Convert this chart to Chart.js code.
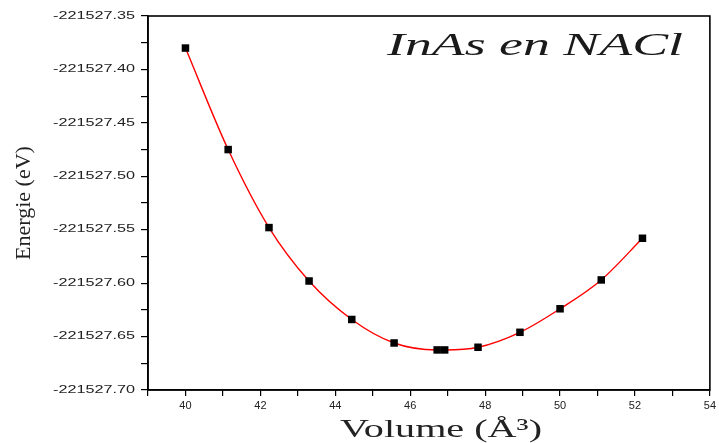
<!DOCTYPE html>
<html>
<head>
<meta charset="utf-8">
<script src="https://cdn.jsdelivr.net/npm/chart.js@4/dist/chart.umd.min.js"></script>
<style>
  html, body { margin: 0; padding: 0; background: #fff; }
  #wrap { width: 719px; height: 443px; }
</style>
</head>
<body>
<div id="wrap"><canvas id="chart"></canvas></div>
<script>
// Data
const volumes = [40.0, 41.14, 42.23, 43.30, 44.44, 45.57, 46.72, 46.92, 47.81, 48.93, 50.0, 51.1, 52.2];
const energies = [-221527.380, -221527.475, -221527.548, -221527.598, -221527.634, -221527.656,
                  -221527.6625, -221527.6625, -221527.660, -221527.646, -221527.624, -221527.597, -221527.558];

// Tick labels
const xTicks = [40, 42, 44, 46, 48, 50, 52, 54];
const yTicks = [-221527.70, -221527.65, -221527.60, -221527.55, -221527.50, -221527.45, -221527.40, -221527.35];

const chartTitle = 'InAs en NACl';
const xTitle = 'Volume (Å³)';

// draw text squeezed/stretched horizontally to a given width
function stretchText(ctx, text, x, y, font, width, align) {
    ctx.save();
    ctx.font = font;
    const w = ctx.measureText(text).width;
    const sx = width / w;
    ctx.translate(x, y);
    ctx.scale(sx, 1);
    ctx.textAlign = align || 'left';
    ctx.fillText(text, 0, 0);
    ctx.restore();
}

// frame round the plot, the wide y tick labels, x title and the label inside
const framePlugin = {
    id: 'frame',
    beforeDatasetsDraw(chart) {
        const a = chart.chartArea;
        const ctx = chart.ctx;
        ctx.save();
        ctx.strokeStyle = '#000';
        ctx.lineWidth = 1.6;
        ctx.strokeRect(a.left, a.top, a.right - a.left, a.bottom - a.top);
        ctx.restore();
    },
    afterDraw(chart) {
        const a = chart.chartArea;
        const ctx = chart.ctx;
        const ys = chart.scales.y;
        ctx.save();
        ctx.fillStyle = '#222';
        ctx.textBaseline = 'middle';
        ctx.font = '10px "Liberation Sans"';
        ys.ticks.forEach((t, i) => {
            if (i % 2 !== 0) return;
            const label = t.value.toFixed(2);
            const w = ctx.measureText(label).width * 1.62;
            stretchText(ctx, label, a.left - 13 - w, ys.getPixelForValue(t.value), ctx.font, w);
        });
        ctx.textBaseline = 'alphabetic';
        ctx.fillStyle = '#222';
        stretchText(ctx, xTitle, 340, 437, '26px "Liberation Serif"', 202);
        ctx.fillStyle = '#1a1a1a';
        stretchText(ctx, chartTitle, a.left + 239, a.top + 39, 'italic 32px "Liberation Serif"', 296);
        ctx.restore();
    }
};

const ctx = document.getElementById('chart').getContext('2d');
new Chart(ctx, {
    type: 'scatter',
    data: {
        datasets: [{
            data: volumes.map((v, i) => ({ x: v, y: energies[i] })),
            showLine: true,
            borderColor: '#ff0000',
            borderWidth: 1.4,
            cubicInterpolationMode: 'monotone',
            pointStyle: 'rect',
            pointRadius: 5.3,
            pointBackgroundColor: '#000',
            pointBorderWidth: 0
        }]
    },
    options: {
        responsive: true,
        maintainAspectRatio: false,
        animation: false,
        events: [],
        layout: { padding: { left: 0, right: 6, top: 16, bottom: 0 } },
        plugins: {
            legend: { display: false },
            tooltip: { enabled: false }
        },
        scales: {
            x: {
                type: 'linear',
                min: 39,
                max: 54,
                afterBuildTicks(scale) {
                    const t = [];
                    for (let v = 39; v <= 54; v++) t.push({ value: v });
                    scale.ticks = t;
                },
                afterFit(scale) { scale.height = 53; },
                grid: { drawOnChartArea: false, drawTicks: true, tickLength: 6, color: '#000', lineWidth: 1.2 },
                border: { display: true, color: '#000', width: 1.6 },
                ticks: {
                    autoSkip: false,
                    maxRotation: 0,
                    padding: 3,
                    color: '#222',
                    font: { family: '"Liberation Sans"', size: 11 },
                    callback: (v) => xTicks.includes(v) ? String(v) : ''
                }
            },
            y: {
                type: 'linear',
                min: yTicks[0],
                max: yTicks[yTicks.length - 1],
                afterBuildTicks(scale) {
                    const t = [];
                    yTicks.forEach((v, i) => {
                        t.push({ value: v });
                        if (i < yTicks.length - 1) t.push({ value: (v + yTicks[i + 1]) / 2 });
                    });
                    scale.ticks = t;
                },
                afterFit(scale) { scale.width = 148; },
                grid: { drawOnChartArea: false, drawTicks: true, tickLength: 7, color: '#000', lineWidth: 1.2 },
                border: { display: true, color: '#000', width: 1.6 },
                // labels are drawn wide by the frame plugin
                ticks: { display: false },
                title: {
                    display: true,
                    text: 'Energie (eV)',
                    color: '#222',
                    font: { family: '"Liberation Serif"', size: 22, lineHeight: 1 },
                    padding: { top: 13, bottom: 0 }
                }
            }
        }
    },
    plugins: [framePlugin]
});
</script>
</body>
</html>
